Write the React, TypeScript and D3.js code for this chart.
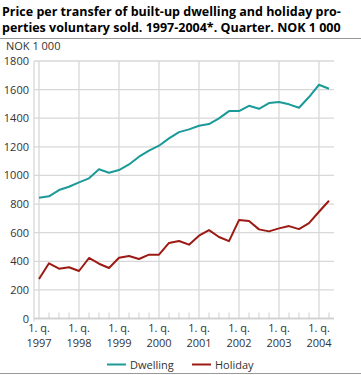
import { useEffect, useRef } from "react";
import * as d3 from "d3";

const years = ["1997", "1998", "1999", "2000", "2001", "2002", "2003", "2004"];

// quarterly values, 1997 Q1 - 2004 Q2
const dwelling = [
  844, 854, 898, 921, 952, 980, 1043, 1019, 1038, 1077, 1131, 1173, 1208, 1259, 1303,
  1322, 1347, 1359, 1399, 1450, 1450, 1487, 1466, 1506, 1513, 1497, 1473, 1548, 1634, 1606,
];
const holiday = [
  276, 386, 348, 358, 332, 423, 383, 353, 425, 437, 416, 446, 446, 528, 542,
  516, 579, 618, 570, 541, 688, 681, 623, 609, 630, 646, 625, 667, 746, 823,
];
const yTicks = [0, 200, 400, 600, 800, 1000, 1200, 1400, 1600, 1800];
const titleLines = [
  "Price per transfer of built-up dwelling and holiday pro-",
  "perties voluntary sold. 1997-2004*. Quarter. NOK 1 000",
];

const series = [
  { name: "Dwelling", values: dwelling, color: "#1a9a98" },
  { name: "Holiday", values: holiday, color: "#9c1a13" },
];

const App = () => {
  const ref = useRef<SVGSVGElement>(null);

  useEffect(() => {
    const svg = d3.select(ref.current);
    svg.selectAll("*").remove();
    const font = "'Open Sans', sans-serif";

    const x = d3.scaleLinear().domain([-0.5, 29.5]).range([34, 334]);
    const y = d3.scaleLinear().domain([0, 1800]).range([318.5, 61]);

    // title
    svg.append("g").selectAll("text").data(titleLines).join("text")
      .attr("x", 2).attr("y", (_, i) => 15.5 + i * 16.5)
      .attr("font-family", font)
      .attr("font-weight", "bold")
      .attr("font-size", 12.5)
      .attr("fill", "#000")
      .text((d) => d);

    svg.append("line").attr("x1", 0).attr("x2", 361).attr("y1", 38.5).attr("y2", 38.5)
      .attr("stroke", "#999").attr("stroke-width", 1);
    svg.append("line").attr("x1", 0).attr("x2", 361).attr("y1", 373.5).attr("y2", 373.5)
      .attr("stroke", "#999").attr("stroke-width", 1);

    svg.append("text").attr("x", 6).attr("y", 50)
      .attr("font-family", font).attr("font-size", 11).attr("fill", "#333")
      .text("NOK 1 000");

    // grid
    const grid = svg.append("g");
    grid.selectAll("line.h").data(yTicks).join("line")
      .attr("x1", 34).attr("x2", 334)
      .attr("y1", (d) => y(d)).attr("y2", (d) => y(d))
      .attr("stroke", "#d8d8d8").attr("stroke-width", 1.3);
    grid.selectAll("line.v").data(years).join("line")
      .attr("x1", (_, i) => x(i * 4)).attr("x2", (_, i) => x(i * 4))
      .attr("y1", y(1800)).attr("y2", y(0))
      .attr("stroke", "#d8d8d8").attr("stroke-width", 1.3);
    grid.append("line").attr("x1", 34).attr("x2", 34).attr("y1", y(1800)).attr("y2", y(0) + 3)
      .attr("stroke", "#d8d8d8").attr("stroke-width", 1.3);
    grid.append("line").attr("x1", 34).attr("x2", 334).attr("y1", y(0)).attr("y2", y(0))
      .attr("stroke", "#cfcfcf").attr("stroke-width", 1.3);
    grid.selectAll("line.t").data(d3.range(30).filter((i) => i % 4 !== 0)).join("line")
      .attr("x1", (d) => x(d)).attr("x2", (d) => x(d))
      .attr("y1", y(0) - 6).attr("y2", y(0))
      .attr("stroke", "#cfcfcf").attr("stroke-width", 1);

    // y labels
    svg.append("g").selectAll("text").data(yTicks).join("text")
      .attr("x", 29).attr("y", (d) => y(d) + 4)
      .attr("text-anchor", "end")
      .attr("font-family", font).attr("font-size", 11).attr("fill", "#333")
      .text((d) => d);

    // x labels
    const xl = svg.append("g").selectAll("text").data(years).join("text")
      .attr("text-anchor", "middle")
      .attr("font-family", font).attr("font-size", 11).attr("fill", "#333");
    xl.append("tspan").attr("x", (_, i) => x(i * 4)).attr("y", 332).text("1. q.");
    xl.append("tspan").attr("x", (_, i) => x(i * 4)).attr("y", 347).text((d) => d);

    // lines
    const line = d3.line<number>().x((_, i) => x(i)).y((d) => y(d));
    series.forEach((s) => {
      svg.append("path").datum(s.values)
        .attr("fill", "none").attr("stroke", s.color).attr("stroke-width", 2)
        .attr("stroke-linejoin", "round")
        .attr("d", line);
    });

    // legend
    const legendX = [107, 192];
    series.forEach((s, i) => {
      svg.append("line").attr("x1", legendX[i]).attr("x2", legendX[i] + 19)
        .attr("y1", 364.5).attr("y2", 364.5)
        .attr("stroke", s.color).attr("stroke-width", 2);
      svg.append("text").attr("x", legendX[i] + 23).attr("y", 368.5)
        .attr("font-family", font).attr("font-size", 11).attr("fill", "#333")
        .text(s.name);
    });
  }, []);

  return (
    <svg
      ref={ref}
      width={361}
      height={375}
      style={{ position: "absolute", left: 0, top: 0, background: "#fff" }}
    />
  );
};

export default App;
